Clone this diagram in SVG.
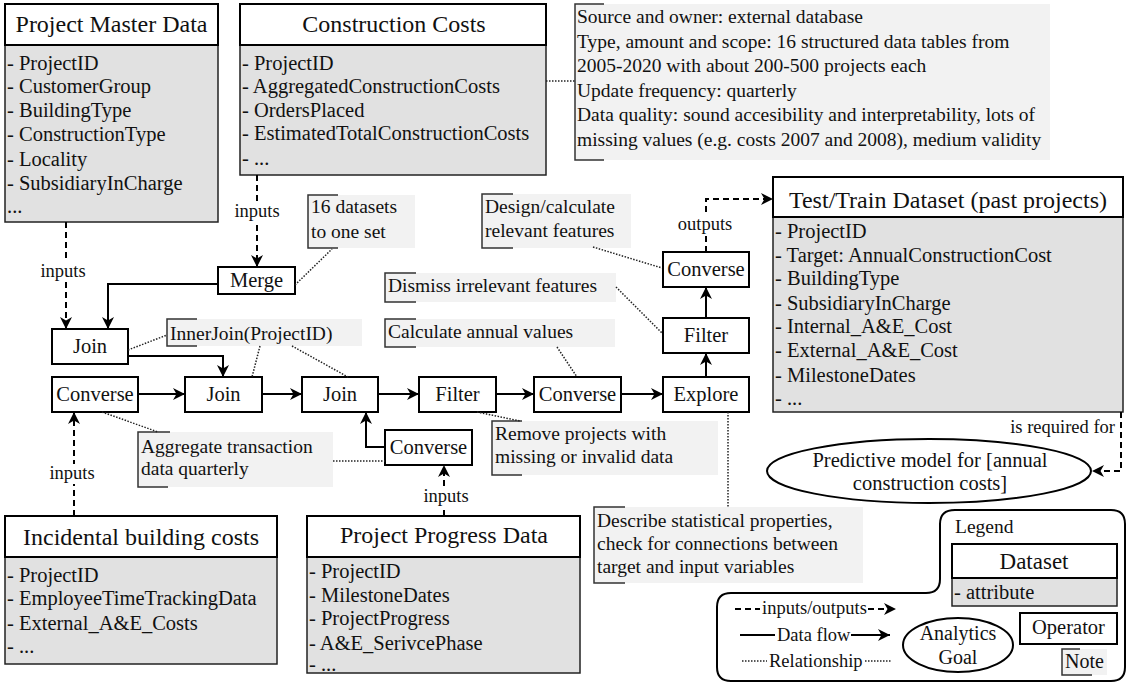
<svg xmlns="http://www.w3.org/2000/svg" width="1127" height="684" viewBox="0 0 1127 684">
<defs>
<style>
text{font-family:"Liberation Serif","Times New Roman",serif;fill:#111}
.hdr{font-size:24px;text-anchor:middle}
.attr{font-size:20.5px}
.hbox{fill:#fff;stroke:#000;stroke-width:2}
.bbox{fill:#e1e1e1;stroke:#222;stroke-width:1.5}
.op rect{fill:#fff;stroke:#000;stroke-width:2}
.op text{font-size:20.5px;text-anchor:middle}
.nbg{fill:#f2f2f2}
.br{fill:none;stroke:#333;stroke-width:1.5}
.nt{font-size:19.5px}
.flow{fill:none;stroke:#000;stroke-width:2;marker-end:url(#arr)}
.io{fill:none;stroke:#000;stroke-width:2;stroke-dasharray:6 4;marker-end:url(#arr)}
.io0{fill:none;stroke:#000;stroke-width:2;stroke-dasharray:6 4}
.ln{fill:none;stroke:#000;stroke-width:2}
.rel{fill:none;stroke:#222;stroke-width:1.5;stroke-dasharray:1.5 1.5}
.lbl{font-size:18.5px;text-anchor:middle}
.lg{font-size:18.5px}
.lbg{fill:#fff}
.goal{fill:#fff;stroke:#000;stroke-width:2}
</style>
<marker id="arr" markerUnits="userSpaceOnUse" markerWidth="14" markerHeight="14" refX="12" refY="6" orient="auto">
<path d="M0,0 L12,6 L0,12 L3.5,6 z" fill="#000"/>
</marker>
</defs>
<rect width="1127" height="684" fill="#fff"/>

<g id="project-master-data">
<rect class="bbox" x="5" y="45" width="213" height="177"/>
<rect class="hbox" x="5" y="4" width="213" height="41"/>
<text class="hdr" x="111.5" y="32">Project Master Data</text>
<text class="attr" x="7" y="70">- ProjectID</text>
<text class="attr" x="7" y="93">- CustomerGroup</text>
<text class="attr" x="7" y="117">- BuildingType</text>
<text class="attr" x="7" y="141">- ConstructionType</text>
<text class="attr" x="7" y="166">- Locality</text>
<text class="attr" x="7" y="190">- SubsidiaryInCharge</text>
<text class="attr" x="7" y="213">...</text>
</g>

<g id="construction-costs">
<rect class="bbox" x="240" y="45" width="306" height="130"/>
<rect class="hbox" x="240" y="4" width="306" height="41"/>
<text class="hdr" x="394" y="32">Construction Costs</text>
<text class="attr" x="242" y="70">- ProjectID</text>
<text class="attr" x="242" y="93">- AggregatedConstructionCosts</text>
<text class="attr" x="242" y="117">- OrdersPlaced</text>
<text class="attr" x="242" y="140">- EstimatedTotalConstructionCosts</text>
<text class="attr" x="242" y="165">- ...</text>
</g>

<g id="test-train-dataset">
<rect class="bbox" x="773" y="217" width="350" height="195"/>
<rect class="hbox" x="773" y="177" width="350" height="40"/>
<text class="hdr" x="948" y="208">Test/Train Dataset (past projects)</text>
<text class="attr" x="775" y="238">- ProjectID</text>
<text class="attr" x="775" y="262">- Target: AnnualConstructionCost</text>
<text class="attr" x="775" y="285">- BuildingType</text>
<text class="attr" x="775" y="310">- SubsidiaryInCharge</text>
<text class="attr" x="775" y="333">- Internal_A&amp;E_Cost</text>
<text class="attr" x="775" y="357">- External_A&amp;E_Cost</text>
<text class="attr" x="775" y="382">- MilestoneDates</text>
<text class="attr" x="775" y="405">- ...</text>
</g>

<g id="incidental-building-costs">
<rect class="bbox" x="5" y="557" width="272" height="107"/>
<rect class="hbox" x="5" y="516" width="272" height="41"/>
<text class="hdr" x="141" y="545">Incidental building costs</text>
<text class="attr" x="7" y="582">- ProjectID</text>
<text class="attr" x="7" y="605">- EmployeeTimeTrackingData</text>
<text class="attr" x="7" y="630">- External_A&amp;E_Costs</text>
<text class="attr" x="7" y="653">- ...</text>
</g>

<g id="project-progress-data">
<rect class="bbox" x="307" y="557" width="273" height="116"/>
<rect class="hbox" x="307" y="516" width="273" height="41"/>
<text class="hdr" x="444" y="543">Project Progress Data</text>
<text class="attr" x="309" y="578">- ProjectID</text>
<text class="attr" x="309" y="602">- MilestoneDates</text>
<text class="attr" x="309" y="625">- ProjectProgress</text>
<text class="attr" x="309" y="650">- A&amp;E_SerivcePhase</text>
<text class="attr" x="309" y="671">- ...</text>
</g>

<g id="op-merge" class="op"><rect x="218" y="267" width="77" height="27"/><text x="256.5" y="287">Merge</text></g>
<g id="op-join1" class="op"><rect x="52" y="329" width="76" height="35"/><text x="90" y="353">Join</text></g>
<g id="op-converse1" class="op"><rect x="52" y="377" width="86" height="35"/><text x="95" y="401">Converse</text></g>
<g id="op-join2" class="op"><rect x="185" y="377" width="77" height="35"/><text x="223.5" y="401">Join</text></g>
<g id="op-join3" class="op"><rect x="302" y="377" width="76" height="35"/><text x="340" y="401">Join</text></g>
<g id="op-filter1" class="op"><rect x="419" y="377" width="77" height="35"/><text x="457.5" y="401">Filter</text></g>
<g id="op-converse2" class="op"><rect x="534" y="377" width="87" height="35"/><text x="577.5" y="401">Converse</text></g>
<g id="op-explore" class="op"><rect x="663" y="377" width="86" height="35"/><text x="706" y="401">Explore</text></g>
<g id="op-filter2" class="op"><rect x="663" y="318" width="86" height="35"/><text x="706" y="342">Filter</text></g>
<g id="op-converse3" class="op"><rect x="663" y="252" width="86" height="35"/><text x="706" y="276">Converse</text></g>
<g id="op-converse4" class="op"><rect x="385" y="430" width="87" height="35"/><text x="428.5" y="454">Converse</text></g>

<g id="goal-predictive-model">
<ellipse class="goal" cx="929" cy="471" rx="162" ry="32"/>
<text class="hdr" style="font-size:20.5px" x="930" y="467">Predictive model for [annual</text>
<text class="hdr" style="font-size:20.5px" x="930" y="490">construction costs]</text>
</g>

<g id="note-cc">
<rect class="nbg" x="575" y="4" width="475" height="156"/>
<path class="br" d="M604,4 H575 V160 H604"/>
<text class="nt" x="577" y="23">Source and owner: external database</text>
<text class="nt" x="577" y="47.5">Type, amount and scope: 16 structured data tables from</text>
<text class="nt" x="577" y="72">2005-2020 with about 200-500 projects each</text>
<text class="nt" x="577" y="96.5">Update frequency: quarterly</text>
<text class="nt" x="577" y="121">Data quality: sound accesibility and interpretability, lots of</text>
<text class="nt" x="577" y="145.5">missing values (e.g. costs 2007 and 2008), medium validity</text>
</g>
<g id="note-merge">
<rect class="nbg" x="308" y="195" width="107" height="53"/>
<path class="br" d="M338,195 H308 V248 H338"/>
<text class="nt" x="311" y="213">16 datasets</text>
<text class="nt" x="311" y="238">to one set</text>
</g>
<g id="note-innerjoin">
<rect class="nbg" x="167" y="319" width="195" height="27"/>
<path class="br" d="M197,319 H167 V346 H197"/>
<text class="nt" x="170" y="340">InnerJoin(ProjectID)</text>
</g>
<g id="note-aggregate">
<rect class="nbg" x="138" y="432" width="195" height="55"/>
<path class="br" d="M170,432 H138 V487 H168"/>
<text class="nt" x="141" y="453">Aggregate transaction</text>
<text class="nt" x="141" y="475">data quarterly</text>
</g>
<g id="note-remove">
<rect class="nbg" x="492" y="421" width="226" height="54"/>
<path class="br" d="M522,421 H492 V475 H522"/>
<text class="nt" x="495" y="440">Remove projects with</text>
<text class="nt" x="495" y="463">missing or invalid data</text>
</g>
<g id="note-describe">
<rect class="nbg" x="594" y="507" width="269" height="76"/>
<path class="br" d="M625,507 H594 V583 H625"/>
<text class="nt" x="597" y="527">Describe statistical properties,</text>
<text class="nt" x="597" y="550">check for connections between</text>
<text class="nt" x="597" y="573">target and input variables</text>
</g>
<g id="note-calculate">
<rect class="nbg" x="385" y="319" width="230" height="28"/>
<path class="br" d="M416,319 H385 V347 H416"/>
<text class="nt" x="388" y="338">Calculate annual values</text>
</g>
<g id="note-dismiss">
<rect class="nbg" x="385" y="273" width="231" height="29"/>
<path class="br" d="M416,273 H385 V302 H416"/>
<text class="nt" x="388" y="292">Dismiss irrelevant features</text>
</g>
<g id="note-design">
<rect class="nbg" x="482" y="194" width="149" height="54"/>
<path class="br" d="M513,194 H482 V248 H513"/>
<text class="nt" x="485" y="213">Design/calculate</text>
<text class="nt" x="485" y="237">relevant features</text>
</g>

<g id="connectors">
<path class="flow" d="M218,284 H108 V329"/>
<path class="flow" d="M128,356 H223 V377"/>
<path class="flow" d="M138,394 H185"/>
<path class="flow" d="M262,394 H302"/>
<path class="flow" d="M378,394 H419"/>
<path class="flow" d="M496,394 H534"/>
<path class="flow" d="M621,394 H663"/>
<path class="flow" d="M706,377 V353"/>
<path class="flow" d="M706,318 V287"/>
<path class="flow" d="M385,447 H366 V412"/>
<path class="io" d="M66,222 V329"/>
<path class="io" d="M257,175 V267"/>
<path class="io" d="M74,516 V412"/>
<path class="io" d="M444,516 V465"/>
<path class="io" d="M706,252 V199 H773"/>
<path class="io" d="M1121,412 V471 H1092"/>
<path class="rel" d="M546,81 H575"/>
<path class="rel" d="M295,285 L332,249"/>
<path class="rel" d="M128,350 L167,335"/>
<path class="rel" d="M260,346 L252,377"/>
<path class="rel" d="M292,346 L348,377"/>
<path class="rel" d="M102,412 L158,432"/>
<path class="rel" d="M333,461 H385"/>
<path class="rel" d="M477,412 L520,421"/>
<path class="rel" d="M728,412 V507"/>
<path class="rel" d="M557,347 L577,377"/>
<path class="rel" d="M616,287 L662,333"/>
<path class="rel" d="M593,247 L662,268"/>
<rect class="lbg" x="40" y="262" width="47" height="20"/>
<text class="lbl" x="63" y="277">inputs</text>
<rect class="lbg" x="234" y="202" width="47" height="20"/>
<text class="lbl" x="257" y="217">inputs</text>
<rect class="lbg" x="49" y="464" width="47" height="20"/>
<text class="lbl" x="72" y="479">inputs</text>
<rect class="lbg" x="422" y="487" width="47" height="20"/>
<text class="lbl" x="446" y="502">inputs</text>
<rect class="lbg" x="677" y="215" width="57" height="20"/>
<text class="lbl" x="705" y="230">outputs</text>
<text class="lbl" style="text-anchor:end" x="1115" y="433">is required for</text>
</g>

<g id="legend">
<path d="M955,510 H1111 Q1125,510 1125,524 V667 Q1125,681 1111,681 H731 Q717,681 717,667 V607 Q717,593 731,593 H926 Q940,593 940,579 V524 Q940,510 955,510 Z" fill="none" stroke="#000" stroke-width="2"/>
<text x="955" y="533" style="font-size:19.5px">Legend</text>
<rect class="bbox" x="952" y="578" width="165" height="28"/>
<rect class="hbox" x="952" y="544" width="165" height="34"/>
<text class="hdr" style="font-size:23px" x="1034" y="569">Dataset</text>
<text class="attr" x="954" y="599">- attribute</text>
<g class="op"><rect x="1020" y="613" width="97" height="31"/><text x="1068.5" y="634">Operator</text></g>
<rect class="nbg" x="1062" y="649" width="45" height="26"/>
<path class="br" d="M1080,649 H1062 V675 H1092"/>
<text x="1065" y="668" style="font-size:20px">Note</text>
<ellipse class="goal" cx="958" cy="645" rx="55" ry="27"/>
<text class="hdr" style="font-size:20px" x="958" y="640">Analytics</text>
<text class="hdr" style="font-size:20px" x="958" y="664">Goal</text>
<path class="io0" d="M735,609 H760"/>
<text class="lg" x="762" y="614">inputs/outputs</text>
<path class="io" d="M868,609 H896"/>
<path class="ln" d="M740,635 H775"/>
<text class="lg" x="777" y="641">Data flow</text>
<path class="flow" d="M851,635 H890"/>
<path class="rel" d="M742,661 H767"/>
<text class="lg" x="769" y="667">Relationship</text>
<path class="rel" d="M865,661 H892"/>
</g>
</svg>
